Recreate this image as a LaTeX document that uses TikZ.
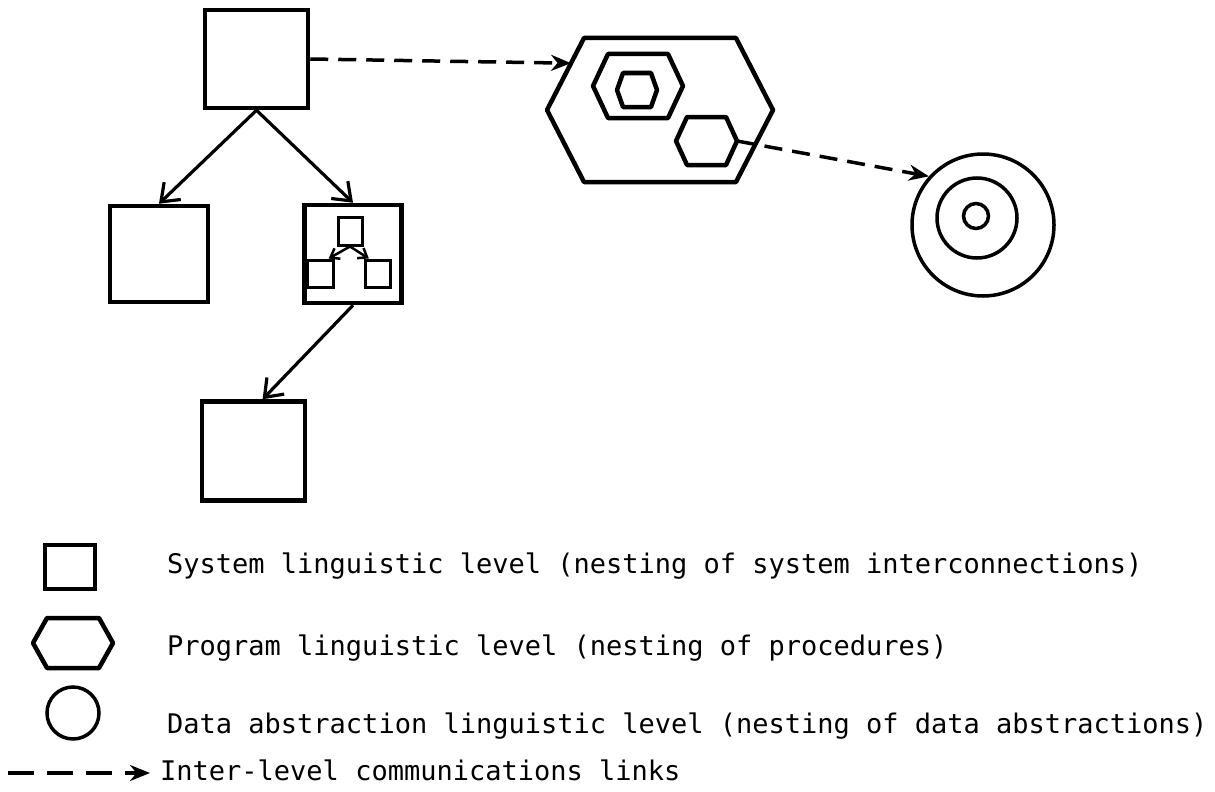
\documentclass[tikz,border=0pt]{standalone}
\usepackage{fontspec}
\newfontfamily\typer{DejaVu Sans Mono}
\usepackage{tikz}
\usetikzlibrary{arrows.meta,calc}
\usetikzlibrary{positioning}

\tikzset{
    box/.style={draw, line width=4.5pt, inner sep=0pt, minimum width=100pt, minimum height=98pt},
    smallbox/.style={draw, line width=3pt, inner sep=0pt, minimum width=25pt, minimum height=27pt},
    ring/.style={draw, circle, line width=3.5pt, inner sep=0pt},
    hexline/.style={line width=4.5pt, line join=round},
    tree/.style={line width=3.2pt, -{Straight Barb[length=16pt,width=24pt]}},
    smalltree/.style={line width=2.5pt, -{Straight Barb[length=8pt,width=12pt]}},
    link/.style={line width=3.5pt, dash pattern=on 18pt off 10pt, -{Stealth[length=20pt,width=16pt]}},
    keytext/.style={anchor=base west, inner sep=0pt, font=\typer\fontsize{27}{30}\selectfont}
}

% name, centre x, centre y, half width, half height, corner inset
\newcommand{\hexshape}[6]{%
    \draw[hexline] (#2-#4,#3) -- (#2-#4+#6,#3-#5) -- (#2+#4-#6,#3-#5) -- (#2+#4,#3)
        -- (#2+#4-#6,#3+#5) -- (#2-#4+#6,#3+#5) -- cycle;
    \coordinate (#1) at (#2,#3);
    \coordinate (#1-w) at (#2-#4,#3);
    \coordinate (#1-nw) at (#2-#4+#6,#3-#5);
    \coordinate (#1-e) at (#2+#4,#3);
}

\begin{document}
\begin{tikzpicture}[x=1pt, y=-1pt]
                \useasboundingbox (0,0) rectangle (1215,792);
                % system level tree
                \node[box, minimum width=103pt] (top) at (256.5,59) {};
                \node[box, minimum width=98pt, minimum height=96pt] (left) at (159,254) {};
                \node[box, minimum width=97pt] (mid) at (353,254) {};
                \node[box, minimum width=103pt, minimum height=99pt] (bottom) at (253.5,451) {};
                \draw[tree] (top.south) -- (left.north);
                \draw[tree] (top.south) -- (mid.north);
                \draw[tree] (mid.south) -- (bottom.80);
                \node[smallbox, minimum width=24pt, minimum height=28pt] (st) at (350,231) {};
                \node[smallbox, minimum width=26pt] (sl) at (320,273.5) {};
                \node[smallbox] (sr) at (377.5,273.5) {};
                \draw[smalltree] (st.south) -- (sl.60);
                \draw[smalltree] (st.south) -- (sr.120);
                % program level
                \hexshape{bighex}{660}{110}{113}{72}{37}
                \hexshape{nesta}{638}{86}{45}{32}{15}
                \hexshape{nestb}{637}{90}{20}{17}{6}
                \hexshape{smallhex}{706.5}{141}{30.5}{24}{11}
                % data abstraction level
                \node[ring, minimum size=142pt] (outer) at (983,225) {};
                \node[ring, minimum size=80pt] (middle) at (977,218) {};
                \node[ring, minimum size=25pt] (inner) at (976,216) {};
                \draw[link] (top.east) -- ($(bighex-w)!0.65!(bighex-nw)$);
                \draw[link] (smallhex-e) -- (outer.138);
                % key
                \node[box, minimum width=50pt, minimum height=44pt] (keybox) at (70,567) {};
                \hexshape{keyhex}{73}{643}{40}{25}{14}
                \node[ring, minimum size=52pt] (keyring) at (73,713) {};
                \coordinate (keyfrom) at (8,773);
                \coordinate (keyto) at (150,773);
                \draw[link, dash pattern=on 26pt off 13pt] (keyfrom) -- (keyto);
                \node[keytext] (systext) at (167,573) {System linguistic level (nesting of system interconnections)};
                \node[keytext] (prgtext) at (167,655) {Program linguistic level (nesting of procedures)};
                \node[keytext] (dattext) at (167,733) {Data abstraction linguistic level (nesting of data abstractions)};
                \node[keytext] (lnktext) at (160,780) {Inter-level communications links};
\end{tikzpicture}
\end{document}
